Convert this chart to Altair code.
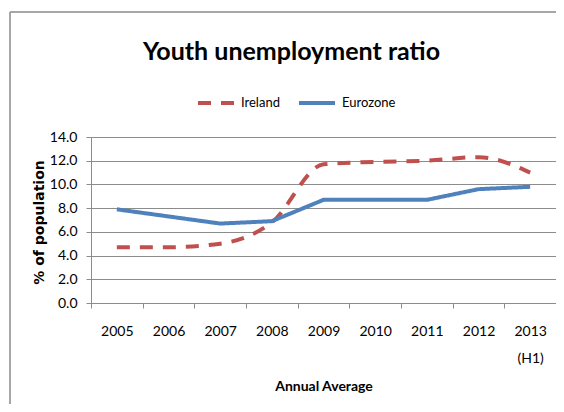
import altair as alt
import pandas as pd

years = ["2005", "2006", "2007", "2008", "2009", "2010", "2011", "2012", "2013 (H1)"]
ireland = [4.7, 4.7, 5.0, 6.8, 11.7, 11.9, 12.0, 12.3, 11.0]
eurozone = [7.9, 7.3, 6.7, 6.9, 8.7, 8.7, 8.7, 9.6, 9.8]
series = ["Ireland", "Eurozone"]
colors = ["#C0504D", "#4F81BD"]
y_ticks = [0, 2, 4, 6, 8, 10, 12, 14]

rows = []
for i, yr in enumerate(years):
    rows.append({"year": yr, "series": "Ireland", "value": ireland[i]})
    rows.append({"year": yr, "series": "Eurozone", "value": eurozone[i]})
df = pd.DataFrame(rows)

FONT = "Lato, Open Sans, sans-serif"
W, H = 465, 166

x_enc = alt.X(
    "year:N",
    sort=years,
    scale=alt.Scale(type="band", domain=years, paddingInner=0, paddingOuter=0),
    axis=alt.Axis(
        title="Annual Average",
        titleFont=FONT,
        titleFontSize=14,
        titleFontWeight="bold",
        titleColor="#000000",
        titleBaseline="alphabetic",
        titleY=87,
        labelExpr="isValid(datum.value) ? split(datum.value, ' ') : ''",
        labelFont=FONT,
        labelFontSize=14,
        labelColor="#000000",
        labelAngle=0,
        labelLineHeight=27,
        labelPadding=16,
        tickBand="extent",
        tickSize=5,
        tickColor="#8c8c8c",
        domainColor="#8c8c8c",
        grid=False,
    ),
)

y_enc = alt.Y(
    "value:Q",
    scale=alt.Scale(domain=[0, 14], nice=False),
    axis=alt.Axis(
        title="% of population",
        titleFont="DejaVu Sans",
        titleFontSize=14,
        titleFontWeight="bold",
        titleColor="#000000",
        titleAngle=270,
        titleBaseline="alphabetic",
        titleAlign="center",
        titleX=-48,
        titleY=H / 2 + 2,
        values=y_ticks,
        format=".1f",
        labelFont=FONT,
        labelFontSize=14,
        labelColor="#000000",
        labelPadding=9,
        tickSize=5,
        tickColor="#8c8c8c",
        domainColor="#8c8c8c",
        gridColor="#8c8c8c",
        gridWidth=1,
    ),
)

color_enc = alt.Color(
    "series:N",
    scale=alt.Scale(domain=series, range=colors),
    legend=alt.Legend(
        title=None,
        orient="none",
        direction="horizontal",
        legendX=105,
        legendY=-54,
        symbolType="stroke",
        symbolSize=1296,
        symbolStrokeWidth=4,
        labelFont=FONT,
        labelFontSize=13,
        labelColor="#000000",
        labelOffset=5,
        columnPadding=11,
    ),
)
dash_enc = alt.StrokeDash(
    "series:N",
    scale=alt.Scale(domain=series, range=[[13, 10], [1, 0]]),
    legend=None,
)

base = alt.Chart(df).encode(x=x_enc, y=y_enc, color=color_enc, strokeDash=dash_enc)

ire = base.transform_filter(alt.datum.series == "Ireland").mark_line(
    strokeWidth=4, interpolate="monotone"
)
euro = base.transform_filter(alt.datum.series == "Eurozone").mark_line(strokeWidth=4)

one = pd.DataFrame({"f": [1]})
frame_top = alt.Chart(one).mark_rule(stroke="#8a8a8a", strokeWidth=1.5).encode(
    x=alt.value(-81), x2=alt.value(W + 20), y=alt.value(-125), y2=alt.value(-125)
)
frame_left = alt.Chart(one).mark_rule(stroke="#8a8a8a", strokeWidth=1.5).encode(
    x=alt.value(-81), x2=alt.value(-81), y=alt.value(-125), y2=alt.value(300)
)

chart = alt.layer(frame_top, frame_left, ire, euro).properties(
    width=W,
    height=H,
    title=alt.TitleParams(
        "Youth unemployment ratio",
        font=FONT,
        fontSize=25,
        fontWeight="bold",
        color="#000000",
        anchor="middle",
        frame="group",
        dx=-32,
        offset=-54,
    ),
    autosize=alt.AutoSizeParams(type="none"),
    padding={"left": 83, "top": 129, "right": 0, "bottom": 101},
).configure_view(stroke=None).configure(background="white")

chart.save("out.html", embed_options={"renderer": "svg", "actions": False})
